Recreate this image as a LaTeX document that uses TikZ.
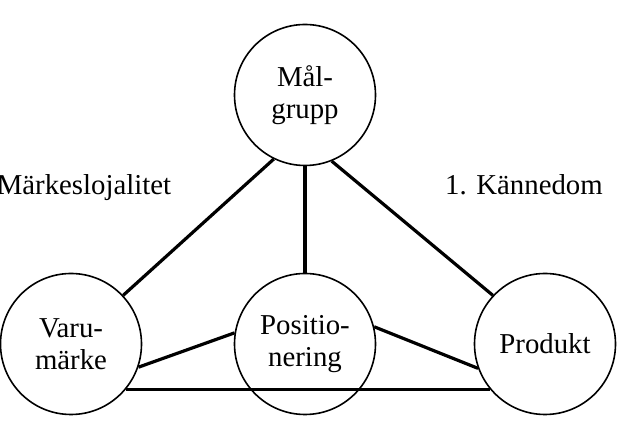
\documentclass[tikz,border=0pt]{standalone}
\usepackage{fontspec}
\setmainfont{Liberation Serif}
\begin{document}
\begin{tikzpicture}[x=1pt,y=1pt,
  ring/.style={draw,circle,line width=1.6pt,minimum size=141pt,inner sep=0pt,align=center},
  link/.style={line width=3.2pt},
  every node/.style={font=\fontsize{28.8}{32}\selectfont}]
 \useasboundingbox (0,0) rectangle (621,427);
 \node[ring] (malgrupp) at (305,332) {Mål-\\grupp};
 \node[ring] (varumarke) at (71,83) {Varu-\\märke};
 \node[ring] (positionering) at (305,83) {Positio-\\nering};
 \node[ring] (produkt) at (545,83) {Produkt};
 \node (lojalitet) at (84,239) {Märkeslojalitet};
 \node (kannedom) at (524,242) {1. Kännedom};
 \draw[link] (malgrupp.244)--(varumarke.43);
 \draw[link] (malgrupp.south)--(positionering.north);
 \draw[link] (malgrupp.292)--(produkt.137);
 \draw[link] (varumarke.341)--(positionering.171);
 \draw[link] (positionering.14)--(produkt.200);
 \draw[link] (varumarke.320)--(produkt.220);
\end{tikzpicture}
\end{document}
